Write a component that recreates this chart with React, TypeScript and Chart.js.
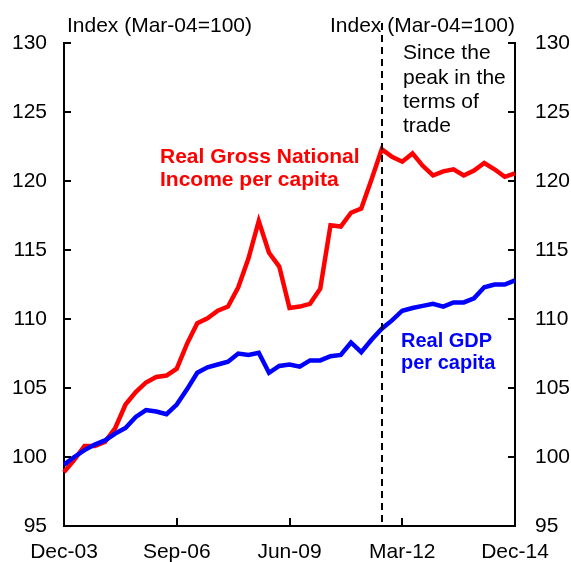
import React, { useEffect, useRef } from "react";
import { Chart, registerables } from "chart.js";

Chart.register(...registerables);

const categories = [
  "Dec-03", "Mar-04", "Jun-04", "Sep-04", "Dec-04", "Mar-05", "Jun-05", "Sep-05", "Dec-05",
  "Mar-06", "Jun-06", "Sep-06", "Dec-06", "Mar-07", "Jun-07", "Sep-07", "Dec-07",
  "Mar-08", "Jun-08", "Sep-08", "Dec-08", "Mar-09", "Jun-09", "Sep-09", "Dec-09",
  "Mar-10", "Jun-10", "Sep-10", "Dec-10", "Mar-11", "Jun-11", "Sep-11", "Dec-11",
  "Mar-12", "Jun-12", "Sep-12", "Dec-12", "Mar-13", "Jun-13", "Sep-13", "Dec-13",
  "Mar-14", "Jun-14", "Sep-14", "Dec-14",
];

const tickLabels = ["Dec-03", "Sep-06", "Jun-09", "Mar-12", "Dec-14"];

const realGNIperCapita = [
  98.9, 99.8, 100.8, 100.8, 101.1, 102.1, 103.8, 104.7, 105.4,
  105.8, 105.9, 106.4, 108.2, 109.7, 110.05, 110.6, 110.9,
  112.3, 114.4, 117.1, 114.8, 113.8, 110.8, 110.9, 111.1,
  112.2, 116.8, 116.7, 117.7, 118.0, 120.1, 122.3, 121.75,
  121.4, 122.0, 121.1, 120.4, 120.7, 120.85, 120.4, 120.75,
  121.3, 120.85, 120.3, 120.55,
];

const realGDPperCapita = [
  99.45, 100.0, 100.5, 100.9, 101.2, 101.7, 102.1, 102.9, 103.4,
  103.3, 103.1, 103.8, 104.9, 106.1, 106.5, 106.7, 106.9,
  107.5, 107.4, 107.55, 106.1, 106.6, 106.7, 106.55, 107.0,
  107.0, 107.3, 107.4, 108.3, 107.6, 108.5, 109.3, 109.9,
  110.6, 110.8, 110.95, 111.1, 110.9, 111.2, 111.2, 111.5,
  112.3, 112.5, 112.5, 112.8,
];

const peakCategory = "Sep-11";
const axisTitle = "Index (Mar-04=100)";
const peakNote = ["Since the", "peak in the", "terms of", "trade"];
const gniLabel = ["Real Gross National", "Income per capita"];
const gdpLabel = ["Real GDP", "per capita"];

const FONT = "'Liberation Sans', Arial, sans-serif";

const overlayPlugin = {
  id: "overlay",
  afterDraw(chart: any) {
    const { ctx, chartArea } = chart;
    const x = chart.scales.x;
    const y = chart.scales.y;
    const { left, right, bottom } = chartArea;
    ctx.save();
    ctx.strokeStyle = "#000";
    ctx.lineWidth = 2;
    for (let v = 95; v <= 130; v += 5) {
      const py = Math.round(y.getPixelForValue(v));
      ctx.beginPath();
      ctx.moveTo(left, py);
      ctx.lineTo(left + 7, py);
      ctx.moveTo(right, py);
      ctx.lineTo(right - 7, py);
      ctx.stroke();
    }
    tickLabels.forEach((lab) => {
      const px = Math.round(x.getPixelForValue(categories.indexOf(lab)));
      ctx.beginPath();
      ctx.moveTo(px, bottom);
      ctx.lineTo(px, bottom - 8);
      ctx.stroke();
    });
    const dx = Math.round(x.getPixelForValue(categories.indexOf(peakCategory)));
    ctx.setLineDash([7, 5]);
    ctx.lineWidth = 2;
    ctx.beginPath();
    ctx.moveTo(dx, 23);
    ctx.lineTo(dx, bottom);
    ctx.stroke();
    ctx.setLineDash([]);

    ctx.fillStyle = "#000";
    ctx.font = `21px ${FONT}`;
    ctx.textBaseline = "alphabetic";
    ctx.textAlign = "left";
    ctx.fillText(axisTitle, left + 3, 32);
    ctx.textAlign = "right";
    ctx.fillText(axisTitle, right, 32);
    ctx.textAlign = "left";
    const noteBase = [59, 83.5, 108, 132];
    peakNote.forEach((t, i) => ctx.fillText(t, dx + 21, noteBase[i]));

    ctx.font = `bold 21px ${FONT}`;
    ctx.fillStyle = "#FF0000";
    ctx.fillText(gniLabel[0], 160, 163);
    ctx.fillText(gniLabel[1], 160, 186);
    ctx.font = `bold 20px ${FONT}`;
    ctx.fillStyle = "#0000FF";
    ctx.fillText(gdpLabel[0], 401, 347);
    ctx.fillText(gdpLabel[1], 401, 369);
    ctx.restore();
  },
};

export default function App() {
  const ref = useRef<HTMLCanvasElement>(null);
  useEffect(() => {
    if (!ref.current) return;
    const chart = new Chart(ref.current, {
      type: "line",
      data: {
        labels: categories,
        datasets: [
          {
            label: "Real GDP per capita",
            data: realGDPperCapita,
            borderColor: "#0000FF",
            borderWidth: 4.5,
            pointRadius: 0,
            tension: 0,
            yAxisID: "y",
          },
          {
            label: "Real Gross National Income per capita",
            data: realGNIperCapita,
            borderColor: "#FF0000",
            borderWidth: 4.5,
            pointRadius: 0,
            tension: 0,
            yAxisID: "y",
          },
        ],
      },
      options: {
        animation: false,
        responsive: false,
        maintainAspectRatio: false,
        layout: { padding: { top: 43, left: 0, right: 0, bottom: 0 } },
        plugins: { legend: { display: false }, tooltip: { enabled: false } },
        scales: {
          x: {
            type: "category",
            offset: false,
            grid: { display: false, drawTicks: false },
            border: { display: true, color: "#000", width: 2 },
            ticks: {
              autoSkip: false,
              maxRotation: 0,
              padding: 14,
              color: "#000",
              font: { family: FONT, size: 21 },
              callback: (_v: any, i: number) =>
                tickLabels.includes(categories[i]) ? categories[i] : "",
            },
            afterFit: (s: any) => {
              s.height = 36;
            },
          },
          y: {
            position: "left",
            min: 95,
            max: 130,
            grid: { display: false, drawTicks: false },
            border: { display: true, color: "#000", width: 2 },
            ticks: {
              stepSize: 5,
              padding: 17,
              color: "#000",
              font: { family: FONT, size: 21 },
            },
            afterFit: (s: any) => {
              s.width = 64;
            },
          },
          y2: {
            position: "right",
            min: 95,
            max: 130,
            grid: { display: false, drawTicks: false },
            border: { display: true, color: "#000", width: 2 },
            ticks: {
              stepSize: 5,
              padding: 20,
              color: "#000",
              font: { family: FONT, size: 21 },
            },
            afterFit: (s: any) => {
              s.width = 56;
            },
          },
        },
      },
      plugins: [overlayPlugin],
    });
    return () => chart.destroy();
  }, []);
  return (
    <div style={{ position: "fixed", left: 0, top: 0, width: 571, height: 562, background: "#fff" }}>
      <canvas ref={ref} width={571} height={562} style={{ width: 571, height: 562 }} />
    </div>
  );
}
